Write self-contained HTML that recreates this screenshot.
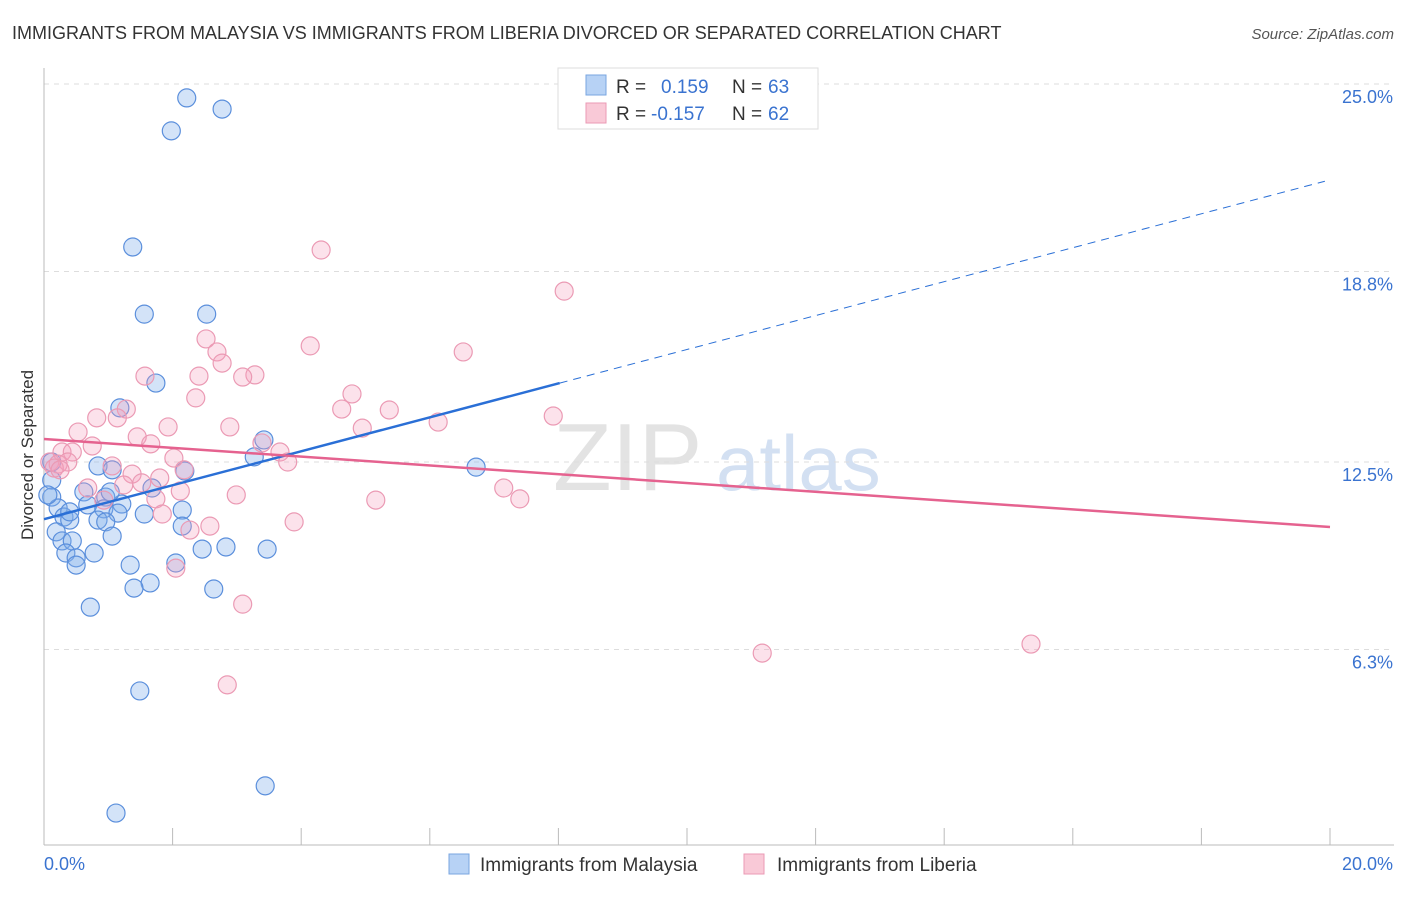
<!DOCTYPE html>
<html><head><meta charset="utf-8"><style>
body{margin:0;background:#fff;font-family:"Liberation Sans",sans-serif}
svg text{font-family:"Liberation Sans",sans-serif}
</style></head><body>
<svg id="chart" width="1406" height="892" viewBox="0 0 1406 892" xmlns="http://www.w3.org/2000/svg">
<text x="12" y="39" font-size="18" fill="#333">IMMIGRANTS FROM MALAYSIA VS IMMIGRANTS FROM LIBERIA DIVORCED OR SEPARATED CORRELATION CHART</text>
<text x="1394" y="39" font-size="15" fill="#555" text-anchor="end" font-style="italic">Source: ZipAtlas.com</text>
<text transform="translate(33,455) rotate(-90)" font-size="17" fill="#333" text-anchor="middle">Divorced or Separated</text>
<g>
<text x="553" y="490" font-size="96" fill="#ddd" font-family="Liberation Serif" opacity="0.8">ZIP</text>
<text x="716" y="490" font-size="78" fill="#c9d9f0" opacity="0.8">atlas</text>
</g>
<g id="grid"></g>
<g id="axes"></g>
<g id="pts"></g>
<g id="lines"></g>
<g>
<rect x="558" y="68" width="260" height="61" fill="#fff" stroke="#ddd"/>
<rect x="586" y="75" width="20" height="20" fill="#b7d2f5" stroke="#7aa6e0"/>
<rect x="586" y="103" width="20" height="20" fill="#f9c9d7" stroke="#eb9ab4"/>
<text x="616" y="93" font-size="19" fill="#333">R =</text>
<text x="661" y="93" font-size="19" fill="#3a73d0">0.159</text>
<text x="732" y="93" font-size="19" fill="#333">N =</text>
<text x="768" y="93" font-size="19" fill="#3a73d0">63</text>
<text x="616" y="120" font-size="19" fill="#333">R =</text>
<text x="651" y="120" font-size="19" fill="#3a73d0">-0.157</text>
<text x="732" y="120" font-size="19" fill="#333">N =</text>
<text x="768" y="120" font-size="19" fill="#3a73d0">62</text>
</g>
<g>
<rect x="449" y="854" width="20" height="20" fill="#b7d2f5" stroke="#7aa6e0"/>
<text x="480" y="871" font-size="19" fill="#333">Immigrants from Malaysia</text>
<rect x="744" y="854" width="20" height="20" fill="#f9c9d7" stroke="#eb9ab4"/>
<text x="777" y="871" font-size="19" fill="#333">Immigrants from Liberia</text>
</g>
</svg>
<script>
const yTicks=[25.0,18.8,12.5,6.3];
const yTickLabels=["25.0%","18.8%","12.5%","6.3%"];
const xTickCount=10;
const xLabels=["0.0%","20.0%"];
const malaysiaX=[2.22,2.77,1.98,1.38,1.56,2.53,1.74,1.18,3.42,3.27,6.72,0.84,1.06,2.19,0.12,0.12,0.62,1.68,0.96,0.12,0.68,1.21,0.22,0.93,1.15,1.56,2.15,0.31,0.40,0.84,0.96,2.15,0.19,1.06,0.28,0.44,0.78,0.34,0.50,2.46,2.83,3.47,0.50,1.34,2.05,1.65,1.40,2.64,0.72,1.49,3.44,1.12,0.06,0.40,1.03];
const malaysiaY=[24.54,24.17,23.45,19.61,17.39,17.39,15.11,14.29,13.23,12.67,12.33,12.37,12.24,12.20,12.50,11.90,11.51,11.64,11.34,11.34,11.08,11.11,10.98,10.95,10.81,10.78,10.91,10.68,10.58,10.58,10.52,10.38,10.19,10.05,9.89,9.89,9.49,9.49,9.33,9.62,9.69,9.62,9.09,9.09,9.16,8.50,8.33,8.30,7.70,4.93,1.79,0.89,11.41,10.85,11.51];
const liberiaX=[4.31,8.09,4.14,6.52,2.52,2.69,2.77,1.57,2.41,3.28,3.09,4.79,2.36,4.63,5.37,1.28,0.82,1.14,7.92,2.89,1.93,6.13,4.95,1.45,1.66,0.53,0.75,3.39,3.67,0.28,0.44,0.09,0.22,0.37,2.02,3.79,1.06,1.37,1.80,2.18,1.24,1.52,2.12,2.99,7.15,7.40,5.16,1.74,0.68,0.93,1.84,2.58,2.27,3.89,2.05,3.09,11.17,15.35,2.85,0.16,0.25];
const liberiaY=[19.51,18.15,16.34,16.14,16.57,16.14,15.77,15.34,15.34,15.38,15.31,14.75,14.62,14.25,14.22,14.25,13.96,13.96,14.02,13.66,13.66,13.82,13.62,13.33,13.10,13.49,13.03,13.13,12.83,12.83,12.83,12.50,12.43,12.50,12.63,12.50,12.37,12.10,11.97,12.24,11.74,11.81,11.54,11.41,11.64,11.28,11.24,11.28,11.64,11.24,10.78,10.38,10.25,10.52,8.99,7.80,6.18,6.48,5.13,12.30,12.24];
const malaysiaTrend=[10.61,0.561]; // intercept, slope
const liberiaTrend=[13.26,-0.1455];
const malaysiaSolidEnd=8.02, malaysiaDashEnd=19.92;

const NS="http://www.w3.org/2000/svg";
const X0=44,X1=1330,Y0=840,PXY=30.24;
const sx=v=>X0+v*(X1-X0)/20;
const sy=v=>Y0-v*PXY;
function mk(tag,attrs,parent){const e=document.createElementNS(NS,tag);for(const k in attrs)e.setAttribute(k,attrs[k]);document.getElementById(parent).appendChild(e);return e;}
yTicks.forEach((t,i)=>{
  const l=mk('line',{x1:X0,x2:1394,y1:sy(t),y2:sy(t),stroke:'#ddd','stroke-dasharray':'5,5'},'grid');
  
  
  const tx=mk('text',{x:1393,y:sy(t)+19,'font-size':18,fill:'#3a73d0','text-anchor':'end'},'axes');
  tx.textContent=yTickLabels[i];
  
  
});
const ya=mk('line',{x1:X0,x2:X0,y1:68,y2:845,stroke:'#bbb'},'axes');


const xa=mk('line',{x1:X0,x2:1394,y1:845,y2:845,stroke:'#bbb'},'axes');


for(let i=0;i<=xTickCount;i++){
  const v=i*20/xTickCount;
  const tk=mk('line',{x1:sx(v),x2:sx(v),y1:828,y2:845,stroke:'#bbb'},'axes');
  
  
}
const xl0=mk('text',{x:44,y:870,'font-size':18,fill:'#3a73d0'},'axes');
xl0.textContent=xLabels[0];


const xl1=mk('text',{x:1393,y:870,'font-size':18,fill:'#3a73d0','text-anchor':'end'},'axes');
xl1.textContent=xLabels[1];


malaysiaX.forEach((x,i)=>{
  const c=mk('circle',{cx:sx(x),cy:sy(malaysiaY[i]),r:9,fill:'rgba(130,175,235,0.35)',stroke:'#5b8fdc','stroke-width':1.2},'pts');
  
  
});
liberiaX.forEach((x,i)=>{
  const c=mk('circle',{cx:sx(x),cy:sy(liberiaY[i]),r:9,fill:'rgba(245,160,190,0.3)',stroke:'#eb9ab4','stroke-width':1.2},'pts');
  
  
});
const f=(t,x)=>t[0]+t[1]*x;
const bl=mk('line',{x1:sx(0),y1:sy(f(malaysiaTrend,0)),x2:sx(malaysiaSolidEnd),y2:sy(f(malaysiaTrend,malaysiaSolidEnd)),stroke:'#2a6fd6','stroke-width':2.5},'lines');


const bd=mk('line',{x1:sx(malaysiaSolidEnd),y1:sy(f(malaysiaTrend,malaysiaSolidEnd)),x2:sx(malaysiaDashEnd),y2:sy(f(malaysiaTrend,malaysiaDashEnd)),stroke:'#2a6fd6','stroke-width':1,'stroke-dasharray':'8,6'},'lines');


const pl=mk('line',{x1:sx(0),y1:sy(f(liberiaTrend,0)),x2:sx(20),y2:sy(f(liberiaTrend,20)),stroke:'#e5628f','stroke-width':2.5},'lines');


</script>
</body></html>
